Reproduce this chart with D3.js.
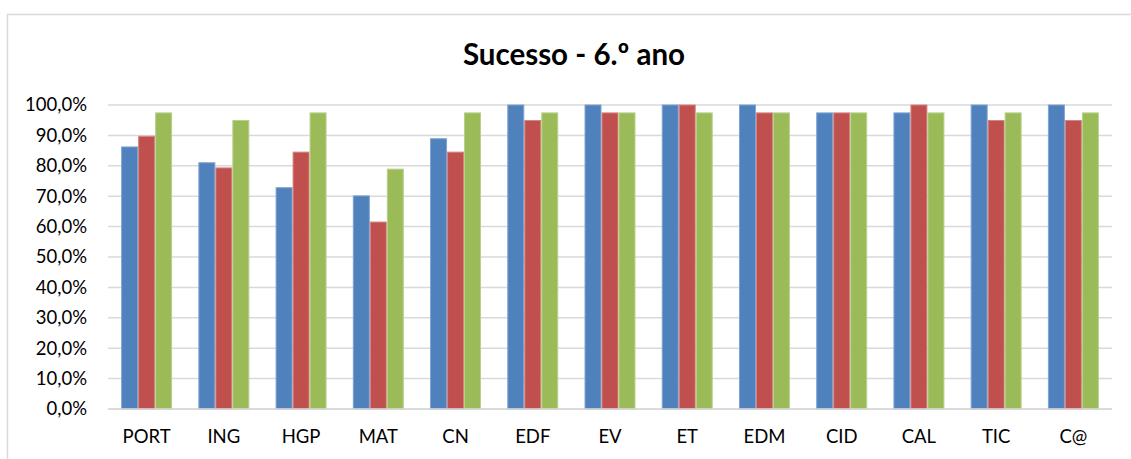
<!DOCTYPE html>
<html>
<head>
<meta charset="utf-8">
<script src="https://cdn.jsdelivr.net/npm/d3@7"></script>
<style>
  html, body { margin: 0; padding: 0; background: #fff; }
  svg { display: block; }
  text { font-family: Lato, "Open Sans", sans-serif; fill: #000; }
</style>
</head>
<body>
<svg id="chart" width="1131" height="459"></svg>
<script>
const title = "Sucesso - 6.º ano";
const categories = ["PORT", "ING", "HGP", "MAT", "CN", "EDF", "EV", "ET", "EDM", "CID", "CAL", "TIC", "C@"];
const seriesNames = ["Série 1", "Série 2", "Série 3"];
const series1 = [86.2, 81.0, 72.8, 70.1, 88.9, 100, 100, 100, 100, 97.4, 97.4, 100, 100];
const series2 = [89.7, 79.3, 84.5, 61.5, 84.5, 94.9, 97.4, 100, 97.4, 97.4, 100, 94.9, 94.9];
const series3 = [97.4, 94.9, 97.4, 78.9, 97.4, 97.4, 97.4, 97.4, 97.4, 97.4, 97.4, 97.4, 97.4];
const yTicks = [0, 10, 20, 30, 40, 50, 60, 70, 80, 90, 100];
const colors = ["#4F81BD", "#C0504D", "#9BBB59"];
const strokes = ["#7FA3D0", "#D48583", "#B9D08A"];

const allSeries = [series1, series2, series3];
const svg = d3.select("#chart");

// chart border
svg.append("path")
  .attr("d", "M7.5,470 V14.5 H1140")
  .attr("fill", "none").attr("stroke", "#D9D9D9").attr("stroke-width", 1.5);

const plot = { left: 108, right: 1112, top: 105, bottom: 409 };

const x0 = d3.scaleBand().domain(categories)
  .range([plot.left, plot.right]).paddingInner(0.34).paddingOuter(0.17);
const x1 = d3.scaleBand().domain([0, 1, 2]).range([0, x0.bandwidth()]);
const y = d3.scaleLinear().domain([0, 100]).range([plot.bottom, plot.top]);

// gridlines
svg.append("g").selectAll("line").data(yTicks).join("line")
  .attr("x1", plot.left).attr("x2", plot.right)
  .attr("y1", d => y(d)).attr("y2", d => y(d))
  .attr("stroke", "#D9D9D9").attr("stroke-width", 1.5);

// bars
const groups = svg.append("g").selectAll("g").data(categories).join("g")
  .attr("transform", d => `translate(${x0(d)},0)`);
groups.selectAll("rect")
  .data((c, i) => allSeries.map((s, k) => ({ k, v: s[i] })))
  .join("rect")
  .attr("x", d => x1(d.k) + 0.5)
  .attr("width", x1.bandwidth() - 1)
  .attr("y", d => y(d.v))
  .attr("height", d => y(0) - y(d.v))
  .attr("fill", d => colors[d.k])
  .attr("stroke", d => strokes[d.k])
  .attr("stroke-width", 1);

// base axis line
svg.append("line")
  .attr("x1", plot.left).attr("x2", plot.right)
  .attr("y1", y(0)).attr("y2", y(0))
  .attr("stroke", "#D9D9D9").attr("stroke-width", 1.5);

// y axis labels
const fmt = v => v.toFixed(1).replace(".", ",") + "%";
const yAxis = d3.axisLeft(y).tickValues(yTicks).tickFormat(fmt).tickSize(0).tickPadding(0);
const ya = svg.append("g").attr("transform", `translate(${87},0)`).call(yAxis);
ya.select(".domain").remove();
ya.selectAll("text").attr("font-family", "Lato, sans-serif").attr("font-size", 18.5).attr("fill", "#000");

// x axis labels
const xAxis = d3.axisBottom(x0).tickSize(0).tickPadding(0);
const xa = svg.append("g").attr("transform", `translate(0,${430})`).call(xAxis);
xa.select(".domain").remove();
xa.selectAll("text").attr("font-family", "Lato, sans-serif").attr("font-size", 18.5).attr("fill", "#000");

// title
svg.append("text")
  .attr("x", 574).attr("y", 65)
  .attr("text-anchor", "middle")
  .attr("font-size", 29.5).attr("font-weight", "bold")
  .text(title);
</script>
</body>
</html>
